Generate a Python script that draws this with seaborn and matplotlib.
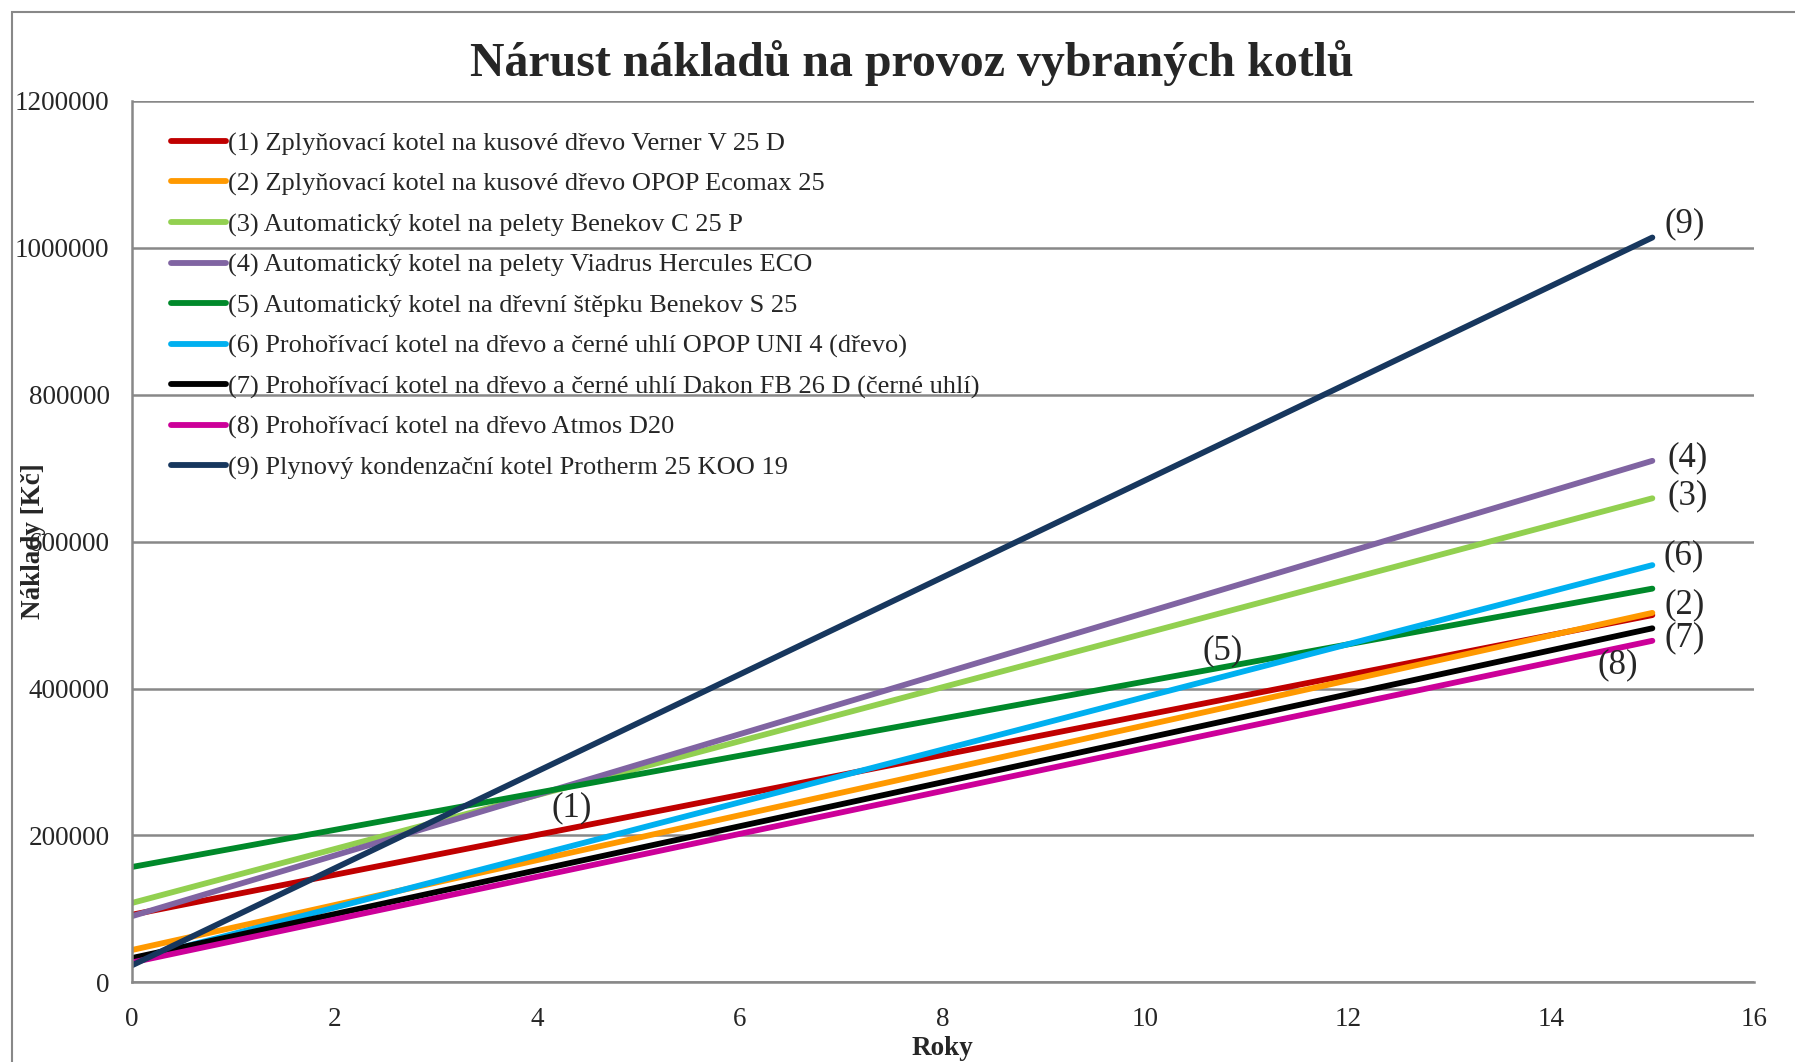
########################################################
# Required Python Packages
########################################################

import pandas as pd
import matplotlib
matplotlib.use("Agg")
import matplotlib.pyplot as plt
import matplotlib.patches as patches
from matplotlib.ticker import FuncFormatter, MultipleLocator
import seaborn as sns

########################################################
# Data
########################################################

roky = [0, 15]

nazvy = [
    "(1) Zplyňovací kotel na kusové dřevo Verner V 25 D",
    "(2) Zplyňovací kotel na kusové dřevo OPOP Ecomax 25",
    "(3) Automatický kotel na pelety Benekov C 25 P",
    "(4) Automatický kotel na pelety Viadrus Hercules ECO",
    "(5) Automatický kotel na dřevní štěpku Benekov S 25",
    "(6) Prohořívací kotel na dřevo a černé uhlí OPOP UNI 4 (dřevo)",
    "(7) Prohořívací kotel na dřevo a černé uhlí Dakon FB 26 D (černé uhlí)",
    "(8) Prohořívací kotel na dřevo Atmos D20",
    "(9) Plynový kondenzační kotel Protherm 25 KOO 19",
]

naklady_1 = [92000, 500000]
naklady_2 = [44000, 503000]
naklady_3 = [108000, 659000]
naklady_4 = [90000, 710000]
naklady_5 = [157000, 536000]
naklady_6 = [30000, 568000]
naklady_7 = [33000, 482000]
naklady_8 = [27000, 465000]
naklady_9 = [23000, 1014000]

barvy = ["#C00000", "#FF9900", "#92D050", "#8064A2", "#00892A",
         "#00B0F0", "#000000", "#CC0099", "#17375E"]

# popisky u konce car
popisky = ["(1)", "(2)", "(3)", "(4)", "(5)", "(6)", "(7)", "(8)", "(9)"]
popisky_x = [4.34, 15.32, 15.35, 15.35, 10.76, 15.31, 15.32, 14.66, 15.32]
popisky_y = [237000, 514000, 662000, 714000, 452000, 580000, 469000, 432000, 1032000]

########################################################
# Build long table
########################################################

vsechny = [naklady_1, naklady_2, naklady_3, naklady_4, naklady_5,
           naklady_6, naklady_7, naklady_8, naklady_9]

rows = []
for nazev, hodnoty in zip(nazvy, vsechny):
    for r, h in zip(roky, hodnoty):
        rows.append({"Roky": r, "Naklady": h, "Kotel": nazev})
df = pd.DataFrame(rows)

########################################################
# Plot
########################################################

sns.set_style("white")
plt.rcParams["font.family"] = ["Liberation Serif", "DejaVu Serif"]

fig = plt.figure(figsize=(17.95, 10.62), dpi=100)
ax = fig.add_axes([0.0734, 0.075, 0.9036, 0.830])

sns.lineplot(data=df, x="Roky", y="Naklady", hue="Kotel", hue_order=nazvy,
             palette=barvy, linewidth=4.2, ax=ax, legend=True)

for t, x, y in zip(popisky, popisky_x, popisky_y):
    ax.text(x, y, t, fontsize=25, ha="center", va="center")

ax.set_xlim(0, 16)
ax.set_ylim(0, 1200000)
ax.xaxis.set_major_locator(MultipleLocator(2))
ax.yaxis.set_major_locator(MultipleLocator(200000))
ax.yaxis.set_major_formatter(FuncFormatter(lambda v, p: "%d" % v))
ax.tick_params(axis="both", labelsize=19.5, length=0)
ax.tick_params(axis="y", pad=16)
ax.tick_params(axis="x", pad=18)

ax.grid(axis="y", color="#888888", linewidth=1.8)
ax.grid(axis="x", visible=False)
for s in ["top", "right"]:
    ax.spines[s].set_visible(False)
for s in ["left", "bottom"]:
    ax.spines[s].set_color("#888888")
    ax.spines[s].set_linewidth(1.8)

ax.set_xlabel("Roky", fontsize=19.5, fontweight="bold", va="center")
ax.set_ylabel("Náklady [Kč]", fontsize=19.5, fontweight="bold", va="center")
ax.xaxis.set_label_coords(0.5, -0.0745)
ax.yaxis.set_label_coords(-0.0605, 0.5)

fig.text(0.508, 0.941, "Nárust nákladů na provoz vybraných kotlů",
         fontsize=34.5, fontweight="bold", ha="center", va="center")

leg = ax.legend(loc="upper left", bbox_to_anchor=(0.0245, 0.965), frameon=False,
                fontsize=19, handlelength=2.05, handletextpad=0.1,
                labelspacing=0.63, borderpad=0, borderaxespad=0)
for line in leg.get_lines():
    line.set_linewidth(4.2)

# outer chart border
fig.patches.append(patches.Rectangle((0.0067, -0.1), 1.2, 1.1 - 0.0113,
                                     transform=fig.transFigure, fill=False,
                                     edgecolor="#888888", linewidth=1.5))

fig.savefig("out.png", dpi=100)
